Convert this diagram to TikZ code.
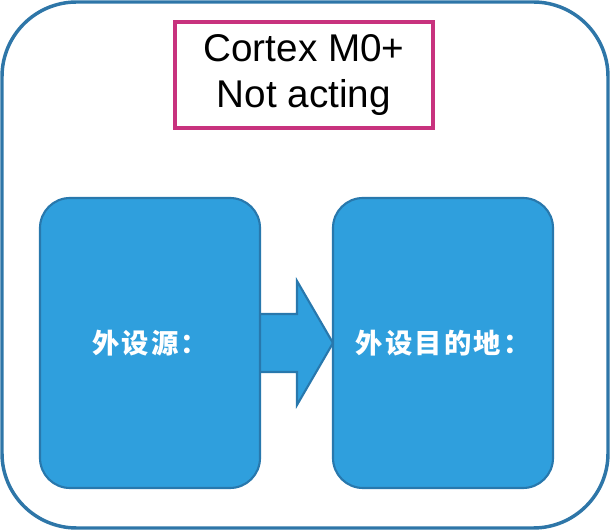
\documentclass[tikz,border=0pt]{standalone}
\usepackage{fontspec}
\setmainfont{Liberation Sans}
\newfontfamily\cjk{Noto Sans CJK SC}[LetterSpace=8]
\usetikzlibrary{positioning}

\definecolor{framecol}{HTML}{2E76A8}
\definecolor{titlecol}{HTML}{C8327E}
\definecolor{boxfill}{HTML}{2F9FDD}
\definecolor{boxline}{HTML}{2878AD}

\begin{document}
\begin{tikzpicture}[
  x=0.75pt, y=-0.75pt,
  frame/.style={draw=framecol, line width=2.6pt, rounded corners=56pt, minimum width=454.5pt, minimum height=394.5pt},
  title/.style={draw=titlecol, line width=2.8pt, minimum width=193.5pt, minimum height=79.5pt, align=center, font=\fontsize{29}{34}\selectfont},
  unit/.style={draw=boxline, fill=boxfill, line width=1.6pt, rounded corners=22.5pt, minimum width=165pt, minimum height=217.5pt, text=white, font=\cjk\bfseries\fontsize{20.5}{24}\selectfont},
  flowarrow/.style={draw=boxline, fill=boxfill, line width=1.6pt},
]
\useasboundingbox (0,0) rectangle (612,530);
\node[frame] (frame) at (305,265) {};
\node[title] (core) at (304,75) {\raisebox{-3pt}{Cortex M0+}\\\raisebox{-3pt}{Not acting}};
% transfer arrow between the two peripherals
\coordinate (tip) at (333,343);
\draw[flowarrow] (260,314) -- (297,314) -- (297,281) -- (tip) -- (297,405) -- (297,372) -- (260,372);
\node[unit] (src) at (150,343) {外设源：};
\node[unit] (dst) at (443,343) {外设目的地：};
\end{tikzpicture}
\end{document}
